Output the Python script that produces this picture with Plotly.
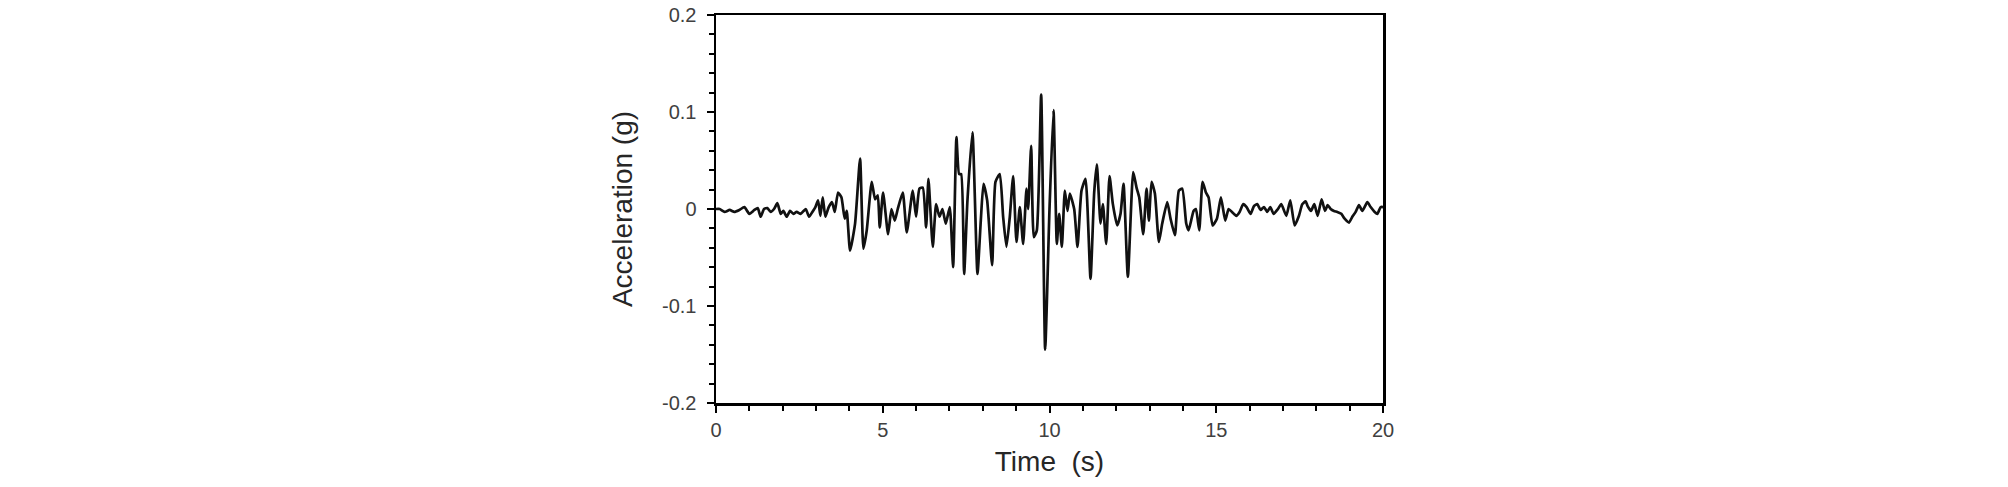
import plotly.graph_objects as go

# Time (s) and acceleration (g)
time_s = [
    0.00, 0.11, 0.26, 0.41, 0.55, 0.70, 0.85, 1.00, 1.15, 1.25, 1.34, 1.44, 1.54, 1.64, 1.74, 1.84,
    1.94, 2.02, 2.12, 2.22, 2.32, 2.42, 2.54, 2.69, 2.79, 2.89, 2.98, 3.06, 3.13, 3.20, 3.28, 3.38,
    3.48, 3.56, 3.66, 3.76, 3.86, 3.92, 4.02, 4.17, 4.32, 4.42, 4.52, 4.67, 4.77, 4.85, 4.91, 5.01,
    5.16, 5.26, 5.36, 5.45, 5.60, 5.72, 5.90, 6.00, 6.10, 6.20, 6.30, 6.37, 6.50, 6.60, 6.70, 6.79,
    6.89, 7.01, 7.11, 7.21, 7.29, 7.35, 7.44, 7.54, 7.69, 7.84, 7.94, 8.02, 8.13, 8.28, 8.38, 8.51,
    8.61, 8.71, 8.81, 8.91, 9.01, 9.11, 9.21, 9.31, 9.36, 9.45, 9.53, 9.62, 9.75, 9.87, 10.00, 10.12,
    10.22, 10.29, 10.37, 10.46, 10.54, 10.61, 10.74, 10.84, 10.96, 11.08, 11.23, 11.34, 11.42, 11.53,
    11.60, 11.70, 11.80, 11.90, 12.03, 12.13, 12.22, 12.35, 12.51, 12.61, 12.69, 12.81, 12.91, 12.98,
    13.06, 13.16, 13.28, 13.38, 13.53, 13.63, 13.76, 13.88, 13.98, 14.10, 14.17, 14.32, 14.39, 14.49,
    14.59, 14.69, 14.77, 14.89, 15.02, 15.14, 15.27, 15.37, 15.47, 15.60, 15.70, 15.81, 15.91, 16.03,
    16.13, 16.23, 16.33, 16.43, 16.53, 16.62, 16.72, 16.85, 16.95, 17.10, 17.22, 17.35, 17.48, 17.58,
    17.68, 17.74, 17.84, 17.94, 18.04, 18.16, 18.26, 18.34, 18.43, 18.53, 18.63, 18.75, 18.85, 18.98,
    19.08, 19.18, 19.28, 19.38, 19.53, 19.63, 19.75, 19.83, 19.93, 20.00,
]
accel_g = [
    0.000, 0.000, -0.003, -0.001, -0.003, -0.001, 0.002, -0.005, -0.001, 0.001, -0.008, 0.000, 0.001, -0.003, 0.000, 0.006,
    -0.005, -0.002, -0.008, -0.002, -0.005, -0.003, -0.005, 0.000, -0.008, -0.003, 0.002, 0.009, -0.007, 0.012, -0.008, 0.002,
    0.007, -0.003, 0.017, 0.012, -0.010, -0.002, -0.043, -0.015, 0.052, -0.041, -0.022, 0.028, 0.010, 0.014, -0.019, 0.017,
    -0.026, 0.000, -0.012, 0.000, 0.017, -0.024, 0.019, -0.008, 0.021, 0.022, -0.019, 0.031, -0.039, 0.005, -0.008, 0.000,
    -0.015, 0.002, -0.060, 0.074, 0.036, 0.036, -0.067, 0.009, 0.079, -0.067, -0.012, 0.026, 0.009, -0.058, 0.028, 0.036,
    -0.008, -0.039, -0.008, 0.034, -0.034, 0.002, -0.036, 0.021, 0.000, 0.065, -0.029, -0.022, 0.118, -0.145, 0.000, 0.102,
    -0.036, -0.005, -0.039, 0.019, -0.002, 0.016, 0.000, -0.039, 0.019, 0.031, -0.072, 0.017, 0.046, -0.015,
    0.005, -0.036, 0.034, 0.005, -0.017, -0.005, 0.026, -0.070, 0.038, 0.022, 0.012, -0.026, 0.021, -0.012,
    0.028, 0.016, -0.034, -0.015, 0.007, -0.010, -0.027, 0.019, 0.021, -0.015, -0.022, -0.002, 0.000, -0.022,
    0.028, 0.017, 0.012, -0.017, -0.010, 0.012, -0.012, 0.000, -0.003, -0.007, -0.003, 0.005, 0.002, -0.005,
    0.003, 0.005, -0.001, 0.002, -0.003, 0.002, -0.005, 0.000, 0.005, -0.007, 0.009, -0.017, -0.007, 0.005,
    0.008, 0.003, -0.002, 0.005, -0.007, 0.010, -0.002, 0.004, 0.000, -0.002, -0.003, -0.005, -0.010, -0.014,
    -0.008, -0.003, 0.004, -0.002, 0.007, 0.002, -0.003, -0.005, 0.002, 0.002,
]

x_ticks = [0, 5, 10, 15, 20]
x_tick_labels = ["0", "5", "10", "15", "20"]
y_ticks = [-0.2, -0.1, 0, 0.1, 0.2]
y_tick_labels = ["-0.2", "-0.1", "0", "0.1", "0.2"]

FONT = "Liberation Sans, Arial, sans-serif"
TICK_COLOR = "#404040"

fig = go.Figure()
fig.add_trace(go.Scatter(
    x=time_s, y=accel_g, mode="lines",
    line=dict(color="#111111", width=2.7, shape="spline", smoothing=0.5),
    showlegend=False, hoverinfo="skip",
))

axis_common = dict(
    showline=True, linecolor="black", linewidth=2.5, mirror=True,
    showgrid=False, zeroline=False,
    ticks="outside", ticklen=7, tickwidth=2, tickcolor="black",
    tickfont=dict(family=FONT, size=20, color=TICK_COLOR),
    ticklabeloverflow="allow",
)

fig.update_xaxes(
    range=[0, 20], tickvals=x_ticks, ticktext=x_tick_labels,
    minor=dict(dtick=1, ticks="outside", ticklen=5, tickwidth=2, tickcolor="black"),
    title=dict(text="Time  (s)", font=dict(family=FONT, size=28, color="#262626"), standoff=12),
    ticklabelstandoff=0,
    **axis_common,
)
fig.update_yaxes(
    range=[-0.2, 0.2], tickvals=y_ticks, ticktext=y_tick_labels,
    minor=dict(dtick=0.02, tick0=0, ticks="outside", ticklen=5, tickwidth=2, tickcolor="black"),
    title=dict(text="Acceleration (g)", font=dict(family=FONT, size=28, color="#262626"), standoff=21),
    ticklabelstandoff=6,
    **axis_common,
)

fig.update_layout(
    width=2008, height=487,
    margin=dict(l=716, r=625, t=15, b=84, autoexpand=False),
    paper_bgcolor="white", plot_bgcolor="white",
)

fig.write_html(
    "out.html",
    config={"displayModeBar": False, "staticPlot": True},
    post_script="document.body.style.margin='0';",
)
